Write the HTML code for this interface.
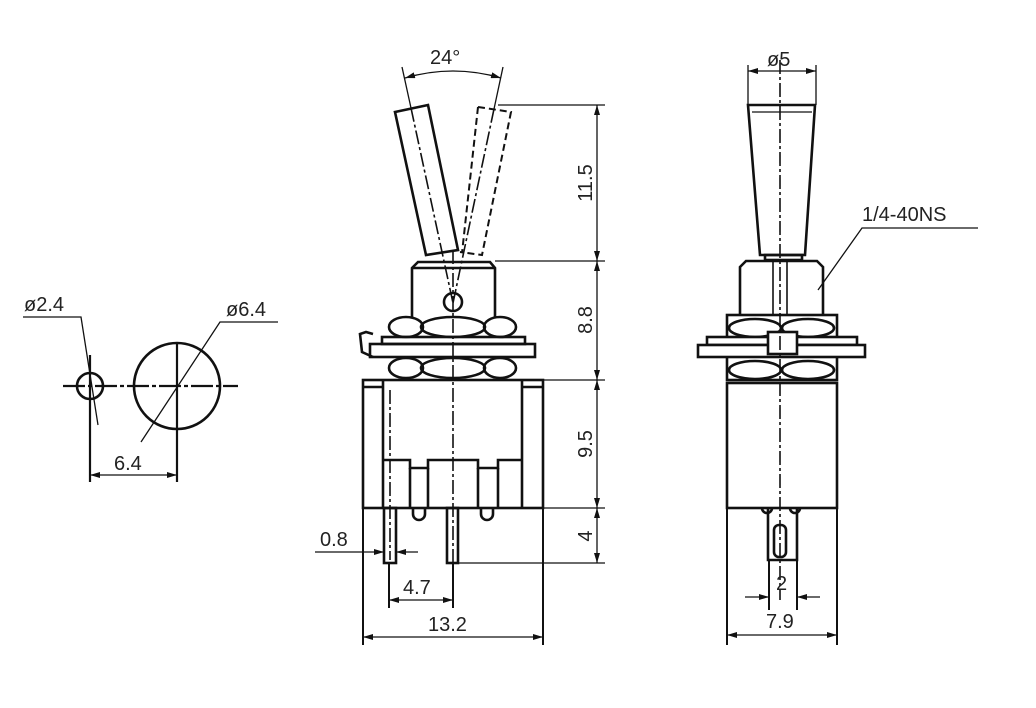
<!DOCTYPE html>
<html><head><meta charset="utf-8"><style>
html,body{margin:0;padding:0;background:#fff;}
svg{display:block;}
text{font-family:"Liberation Sans",sans-serif;font-size:20px;fill:#222;}
</style></head><body>
<svg width="1036" height="708" viewBox="0 0 1036 708" xmlns="http://www.w3.org/2000/svg">
<defs>
<marker id="a" viewBox="0 0 10 6" refX="10" refY="3" markerWidth="10" markerHeight="6" orient="auto-start-reverse" markerUnits="userSpaceOnUse"><path d="M0,0 L10,3 L0,6 z" fill="#111"/></marker>
</defs>
<g fill="none" stroke="#111">
<!-- LEFT VIEW -->
<g stroke-width="2.6">
<circle cx="90" cy="386" r="13"/>
<circle cx="177" cy="386" r="43"/>
</g>
<g stroke-width="2.2">
<line x1="63" y1="386" x2="238" y2="386" stroke-dasharray="22,3,4,3"/>
<line x1="90" y1="355" x2="90" y2="482"/>
<line x1="177" y1="342" x2="177" y2="482"/>
</g>
<g stroke-width="1.3">
<line x1="90" y1="475" x2="177" y2="475" marker-start="url(#a)" marker-end="url(#a)"/>
<polyline points="23,317 81,317 98,425"/>
<polyline points="278,322 220,322 141,442"/>
</g>

<!-- MIDDLE VIEW -->
<g stroke-width="2.6">
<polygon points="395,112 428,105 458,250 426,255"/>
<!-- bushing -->
<polyline points="412,317 412,268 418,262 490,262 495,268 495,317"/>
<line x1="412" y1="268" x2="495" y2="268"/>
<circle cx="453" cy="302" r="9"/>
<!-- upper nuts -->
<ellipse cx="406" cy="327" rx="17" ry="10"/>
<ellipse cx="453" cy="327" rx="32" ry="10"/>
<ellipse cx="500" cy="327" rx="16" ry="10"/>
<rect x="382" y="337" width="143" height="7"/>
<rect x="370" y="344" width="165" height="13"/>
<path d="M373,357 L362,352 L360,334 L366,332 L373,334"/>
<!-- lower nuts -->
<ellipse cx="406" cy="368" rx="17" ry="10"/>
<ellipse cx="453" cy="368" rx="32" ry="10"/>
<ellipse cx="500" cy="368" rx="16" ry="10"/>
<!-- body -->
<rect x="363" y="380" width="180" height="128"/>
<line x1="383" y1="380" x2="383" y2="508"/>
<line x1="522" y1="380" x2="522" y2="508"/>
<line x1="363" y1="387" x2="383" y2="387"/>
<line x1="522" y1="387" x2="543" y2="387"/>
<polyline points="383,460 410,460 410,468 428,468 428,460 478,460 478,468 498,468 498,460 522,460"/>
<line x1="410" y1="468" x2="410" y2="508"/>
<line x1="428" y1="468" x2="428" y2="508"/>
<line x1="478" y1="468" x2="478" y2="508"/>
<line x1="498" y1="468" x2="498" y2="508"/>
<path d="M413,508 v6 a6,6 0 0 0 12,0 v-6"/>
<path d="M481,508 v6 a6,6 0 0 0 12,0 v-6"/>
<rect x="384" y="508" width="12" height="55"/>
<rect x="447" y="508" width="11" height="55"/>
</g>
<g stroke-width="2" stroke-dasharray="7,4">
<polyline points="478,107 511,112 482,255 460,252"/>
<line x1="478" y1="107" x2="462" y2="253"/>
</g>
<g stroke-width="1.6" stroke-dasharray="14,3,3,3">
<line x1="411" y1="108" x2="453" y2="303"/>
<line x1="494" y1="109" x2="453" y2="303"/>
<line x1="453" y1="250" x2="453" y2="575"/>
<line x1="390" y1="390" x2="390" y2="560"/>
</g>
<g stroke-width="1.3">
<!-- 24 deg -->
<line x1="402" y1="67" x2="411" y2="108"/>
<line x1="503" y1="67" x2="494" y2="109"/>
<path d="M405,78 Q453,64 501,78" marker-start="url(#a)" marker-end="url(#a)"/>
<!-- vertical dims -->
<line x1="498" y1="105" x2="605" y2="105"/>
<line x1="495" y1="261" x2="605" y2="261"/>
<line x1="543" y1="380" x2="605" y2="380"/>
<line x1="543" y1="508" x2="605" y2="508"/>
<line x1="458" y1="563" x2="605" y2="563"/>
<line x1="597" y1="105" x2="597" y2="261" marker-start="url(#a)" marker-end="url(#a)"/>
<line x1="597" y1="261" x2="597" y2="380" marker-start="url(#a)" marker-end="url(#a)"/>
<line x1="597" y1="380" x2="597" y2="508" marker-start="url(#a)" marker-end="url(#a)"/>
<line x1="597" y1="508" x2="597" y2="563" marker-start="url(#a)" marker-end="url(#a)"/>
<!-- 0.8 -->
<line x1="315" y1="552" x2="384" y2="552" marker-end="url(#a)"/>
<line x1="418" y1="552" x2="396" y2="552" marker-end="url(#a)"/>
<!-- 4.7 -->
<line x1="389" y1="563" x2="389" y2="608" stroke-width="2"/>
<line x1="453" y1="563" x2="453" y2="608" stroke-width="2"/>
<line x1="389" y1="600" x2="453" y2="600" marker-start="url(#a)" marker-end="url(#a)"/>
<!-- 13.2 -->
<line x1="363" y1="508" x2="363" y2="645" stroke-width="2"/>
<line x1="543" y1="508" x2="543" y2="645" stroke-width="2"/>
<line x1="363" y1="637" x2="543" y2="637" marker-start="url(#a)" marker-end="url(#a)"/>
</g>

<!-- RIGHT VIEW -->
<g stroke-width="2.6">
<polygon points="748,105 815,105 805,255 760,255"/>
<line x1="752" y1="112" x2="812" y2="112" stroke-width="1.3"/>
<rect x="765" y="255" width="37" height="5"/>
<polyline points="740,315 740,267 746,261 817,261 823,267 823,315"/>
<line x1="773" y1="261" x2="773" y2="315" stroke-width="1.6"/>
<line x1="787" y1="261" x2="787" y2="315" stroke-width="1.6"/>
<rect x="727" y="315" width="110" height="65"/>
<ellipse cx="755" cy="328" rx="26" ry="9"/>
<ellipse cx="808" cy="328" rx="26" ry="9"/>
<ellipse cx="755" cy="370" rx="26" ry="9"/>
<ellipse cx="808" cy="370" rx="26" ry="9"/>
<rect x="707" y="337" width="150" height="8" fill="#fff"/>
<rect x="698" y="345" width="167" height="12" fill="#fff"/>
<rect x="768" y="332" width="29" height="22" fill="#fff"/>
<rect x="727" y="383" width="110" height="125"/>
<path d="M762,508 a5,5 0 0 0 10,0 M790,508 a5,5 0 0 0 10,0"/>
<polyline points="768,508 768,560 797,560 797,508"/>
<rect x="774" y="525" width="12" height="32" rx="5"/>
</g>
<g stroke-width="1.6" stroke-dasharray="14,3,3,3">
<line x1="780" y1="60" x2="780" y2="600"/>
</g>
<g stroke-width="1.3">
<line x1="748" y1="65" x2="748" y2="105"/>
<line x1="816" y1="65" x2="816" y2="105"/>
<line x1="748" y1="71" x2="816" y2="71" marker-start="url(#a)" marker-end="url(#a)"/>
<polyline points="818,290 862,228 978,228"/>
<line x1="769" y1="560" x2="769" y2="610" stroke-width="2"/>
<line x1="797" y1="560" x2="797" y2="610" stroke-width="2"/>
<line x1="745" y1="597" x2="769" y2="597" marker-end="url(#a)"/>
<line x1="820" y1="597" x2="797" y2="597" marker-end="url(#a)"/>
<line x1="727" y1="508" x2="727" y2="645" stroke-width="2"/>
<line x1="837" y1="508" x2="837" y2="645" stroke-width="2"/>
<line x1="727" y1="635" x2="837" y2="635" marker-start="url(#a)" marker-end="url(#a)"/>
</g>
</g>

<!-- TEXT -->
<text x="24" y="311">ø2.4</text>
<text x="226" y="316">ø6.4</text>
<text x="114" y="470">6.4</text>
<text x="430" y="64">24°</text>
<text transform="translate(592,183) rotate(-90)" text-anchor="middle">11.5</text>
<text transform="translate(592,320) rotate(-90)" text-anchor="middle">8.8</text>
<text transform="translate(592,444) rotate(-90)" text-anchor="middle">9.5</text>
<text transform="translate(592,536) rotate(-90)" text-anchor="middle">4</text>
<text x="320" y="546">0.8</text>
<text x="403" y="594">4.7</text>
<text x="428" y="631">13.2</text>
<text x="767" y="66">ø5</text>
<text x="862" y="221">1/4-40NS</text>
<text x="776" y="590">2</text>
<text x="766" y="628">7.9</text>
</svg>
</body></html>
